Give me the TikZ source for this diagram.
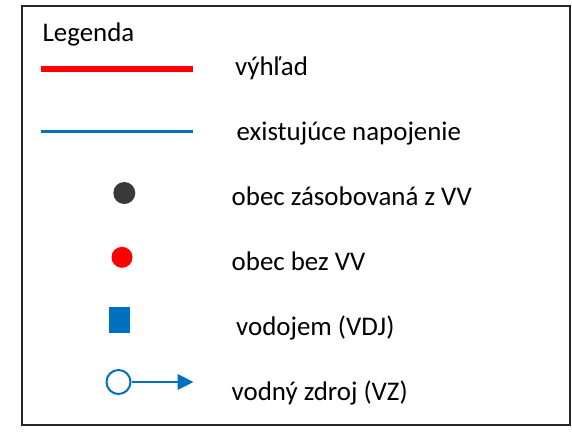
\documentclass[tikz,border=0pt]{standalone}
\usepackage{fontspec}
\setmainfont{Carlito}
\usetikzlibrary{arrows.meta}
\definecolor{legred}{HTML}{FF0000}
\definecolor{legblue}{HTML}{0070C0}
\definecolor{legdark}{HTML}{3B3838}
\begin{document}
\begin{tikzpicture}[x=1pt,y=-1pt,
  lbl/.style={anchor=base west,inner sep=0pt,font=\fontsize{26.9}{32}\selectfont},
  frame/.style={draw=black!85,line width=2.2pt}]
\useasboundingbox (0,0) rectangle (572,432);
\fill[white] (0,0) rectangle (572,432);
\draw[frame] (22,6) rectangle (570,425);
\node[lbl] (title) at (42.5,41.7) {Legenda};
% red line
\coordinate (r1) at (41,69);
\coordinate (r2) at (193,69);
\draw[legred,line width=6pt] (r1) -- (r2);
\node[lbl] (t1) at (235,75) {výhľad};
% blue line
\coordinate (b1) at (41,131.7);
\coordinate (b2) at (193,131.7);
\draw[legblue,line width=3pt] (b1) -- (b2);
\node[lbl] (t2) at (236.5,140) {existujúce napojenie};
% dark dot
\node[circle,fill=legdark,minimum size=22pt,inner sep=0pt] (d1) at (124.3,193) {};
\node[lbl] (t3) at (231.5,205) {obec zásobovaná z VV};
% red dot
\node[circle,fill=legred,minimum size=21pt,inner sep=0pt] (d2) at (122,257.3) {};
\node[lbl] (t4) at (231.5,270) {obec bez VV};
% blue square
\node[rectangle,fill=legblue,minimum width=21pt,minimum height=26pt,inner sep=0pt] (sq) at (119.2,319.7) {};
\node[lbl] (t5) at (236,335) {vodojem (VDJ)};
% water source
\node[circle,draw=legblue,line width=2pt,fill=white,minimum size=24pt,inner sep=0pt] (vz) at (118.5,382) {};
\coordinate (vzend) at (193.5,382);
\draw[legblue,line width=2.6pt,-{Triangle[length=16pt,width=15.5pt]}] (vz.east) -- (vzend);
\node[lbl] (t6) at (231.5,400) {vodný zdroj (VZ)};
\end{tikzpicture}
\end{document}
